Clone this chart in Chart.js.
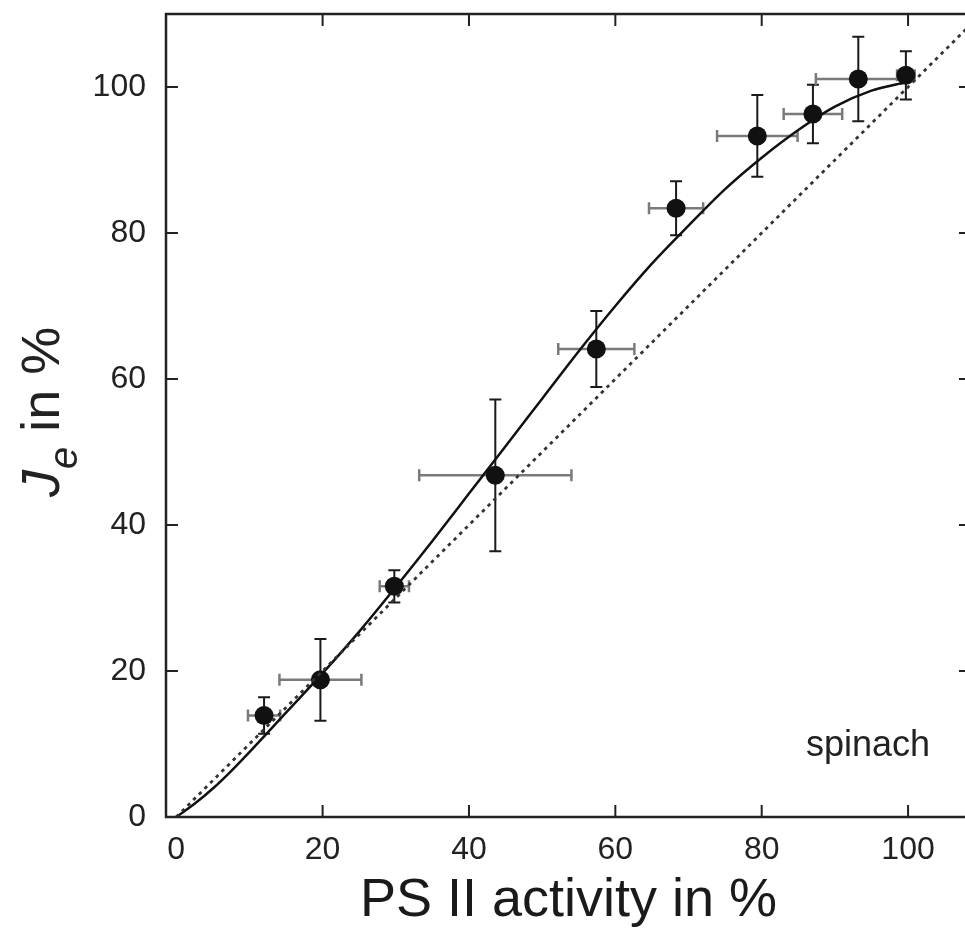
<!DOCTYPE html>
<html>
<head>
<meta charset="utf-8">
<script src="https://cdn.jsdelivr.net/npm/chart.js@4.4.1/dist/chart.umd.min.js"></script>
<style>
  html, body { margin: 0; padding: 0; background: #fff; overflow: hidden; }
  canvas { display: block; }
</style>
</head>
<body>
<canvas id="psChart" width="1000" height="934"></canvas>
<script>
// measured points (PS II activity vs J_e), with error bars
const psX   = [12.0, 19.7, 29.8, 43.6, 57.4, 68.3, 79.4, 87.0, 93.2, 99.7];
const jeY   = [13.9, 18.8, 31.6, 46.8, 64.1, 83.4, 93.3, 96.3, 101.1, 101.6];
const psErr = [2.2, 5.6, 2.0, 10.4, 5.2, 3.7, 5.5, 4.0, 5.8, 1.2];
const jeErr = [2.5, 5.6, 2.2, 10.4, 5.2, 3.7, 5.6, 4.0, 5.8, 3.3];

// fitted curve
const fitX = [0, 2.5, 5, 7.5, 10, 15, 20, 25, 30, 35, 40, 45, 50, 55, 60, 65, 70, 75, 80, 85, 90, 95, 100];
const fitY = [0, 1.8, 3.9, 6.3, 8.9, 14.3, 19.7, 25.4, 31.5, 37.8, 44.3, 50.8, 57.3, 63.8, 70, 75.8, 81, 86, 90.3, 94.1, 97.3, 99.5, 100.7];

// diagonal y = x
const diagX = [0, 110];
const diagY = [0, 110];

const xTicks = [0, 20, 40, 60, 80, 100];
const yTicks = [0, 20, 40, 60, 80, 100];

const FONT = '"Liberation Sans", Arial, Helvetica, sans-serif';
const INK = '#222';

const errorBars = {
  id: 'errorBars',
  beforeDatasetDraw(chart, args) {
    if (args.index !== 2) return;
    const {ctx, scales: {x, y}} = chart;
    ctx.save();
    psX.forEach((v, i) => {
      const px = x.getPixelForValue(v), py = y.getPixelForValue(jeY[i]);
      const x0 = x.getPixelForValue(v - psErr[i]), x1 = x.getPixelForValue(v + psErr[i]);
      const y0 = y.getPixelForValue(jeY[i] - jeErr[i]), y1 = y.getPixelForValue(jeY[i] + jeErr[i]);
      // horizontal (grey)
      ctx.strokeStyle = '#7a7a7a'; ctx.lineWidth = 2.5;
      ctx.beginPath();
      ctx.moveTo(x0, py); ctx.lineTo(x1, py);
      ctx.moveTo(x0, py - 6); ctx.lineTo(x0, py + 6);
      ctx.moveTo(x1, py - 6); ctx.lineTo(x1, py + 6);
      ctx.stroke();
      // vertical (black)
      ctx.strokeStyle = '#1a1a1a'; ctx.lineWidth = 2;
      ctx.beginPath();
      ctx.moveTo(px, y0); ctx.lineTo(px, y1);
      ctx.moveTo(px - 6, y0); ctx.lineTo(px + 6, y0);
      ctx.moveTo(px - 6, y1); ctx.lineTo(px + 6, y1);
      ctx.stroke();
    });
    ctx.restore();
  }
};

const frame = {
  id: 'frame',
  afterDraw(chart) {
    const {ctx, chartArea: a, scales: {x, y}} = chart;
    ctx.save();
    ctx.strokeStyle = INK;
    ctx.lineWidth = 2.5;
    ctx.strokeRect(a.left, a.top, a.right - a.left, a.bottom - a.top);
    ctx.lineWidth = 2;
    ctx.beginPath();
    xTicks.forEach(v => {
      if (v === 0) return;
      const px = x.getPixelForValue(v);
      ctx.moveTo(px, a.bottom); ctx.lineTo(px, a.bottom - 12);
      ctx.moveTo(px, a.top); ctx.lineTo(px, a.top + 12);
    });
    yTicks.forEach(v => {
      if (v === 0) return;
      const py = y.getPixelForValue(v);
      ctx.moveTo(a.left, py); ctx.lineTo(a.left + 12, py);
      ctx.moveTo(a.right, py); ctx.lineTo(a.right - 12, py);
    });
    ctx.stroke();

    // label inside plot
    ctx.fillStyle = INK;
    ctx.font = '36px ' + FONT;
    ctx.textAlign = 'right';
    ctx.textBaseline = 'alphabetic';
    ctx.fillText('spinach', x.getPixelForValue(103), y.getPixelForValue(8.4));

    // y axis title: J_e in %
    ctx.translate(59, 497);
    ctx.rotate(-Math.PI / 2);
    ctx.textAlign = 'left';
    ctx.font = 'italic 54px ' + FONT;
    ctx.fillText('J', 0, 0);
    let w = ctx.measureText('J').width;
    ctx.font = 'italic 40px ' + FONT;
    ctx.fillText('e', w + 1, 18);
    w += ctx.measureText('e').width + 1;
    ctx.font = '54px ' + FONT;
    ctx.fillText(' in %', w, 0);
    ctx.restore();
  }
};

new Chart(document.getElementById('psChart'), {
  type: 'scatter',
  data: {
    datasets: [
      {
        type: 'line',
        data: diagX.map((v, i) => ({x: v, y: diagY[i]})),
        borderColor: '#333',
        borderWidth: 2.8,
        borderDash: [3.5, 4.5],
        pointRadius: 0,
        fill: false
      },
      {
        type: 'line',
        data: fitX.map((v, i) => ({x: v, y: fitY[i]})),
        borderColor: '#111',
        borderWidth: 2.5,
        cubicInterpolationMode: 'monotone',
        pointRadius: 0,
        fill: false
      },
      {
        data: psX.map((v, i) => ({x: v, y: jeY[i]})),
        backgroundColor: '#111',
        borderColor: '#111',
        pointRadius: 9.5,
        pointBorderWidth: 0
      }
    ]
  },
  options: {
    responsive: false,
    animation: false,
    layout: { padding: { top: 14, right: 29, left: 0, bottom: 0 } },
    plugins: { legend: { display: false }, tooltip: { enabled: false } },
    scales: {
      x: {
        type: 'linear',
        min: -1.4,
        max: 108.6,
        afterBuildTicks: s => { s.ticks = xTicks.map(v => ({value: v})); },
        afterFit: s => { s.height = 117; s.paddingLeft = 0; s.paddingRight = 0; },
        grid: { display: false, drawTicks: false },
        border: { display: false },
        ticks: { font: { size: 32, family: FONT }, color: INK, padding: 14 },
        title: {
          display: true,
          text: 'PS II activity in %',
          font: { size: 54, family: FONT },
          color: '#1a1a1a',
          padding: { top: 0, bottom: 0 }
        }
      },
      y: {
        type: 'linear',
        min: 0,
        max: 110,
        afterBuildTicks: s => { s.ticks = yTicks.map(v => ({value: v})); },
        afterFit: s => { s.width = 166; s.paddingTop = 0; s.paddingBottom = 0; },
        grid: { display: false, drawTicks: false },
        border: { display: false },
        ticks: { font: { size: 32, family: FONT }, color: INK, padding: 20 }
      }
    }
  },
  plugins: [errorBars, frame]
});
</script>
</body>
</html>
